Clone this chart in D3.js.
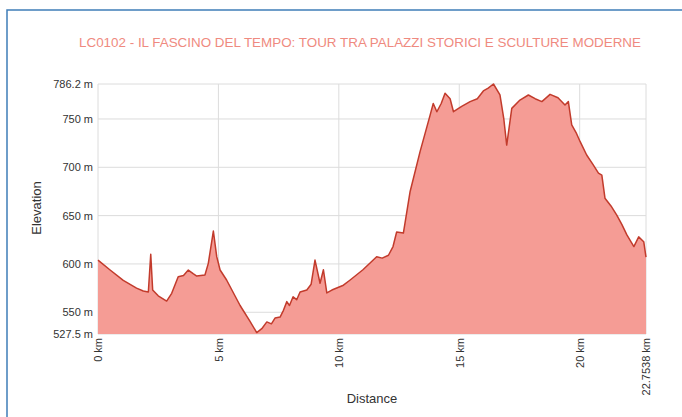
<!DOCTYPE html>
<html>
<head>
<meta charset="utf-8">
<script src="https://cdn.jsdelivr.net/npm/d3@7"></script>
<style>
	body { margin: 0; background: #fff; }
	svg { display: block; font-family: 'Liberation Sans', Arial, sans-serif; }
</style>
</head>
<body>
<svg id="chart" width="682" height="417"></svg>
<script>
// Profile: distance (km) and elevation (m)
var distKm = [0, 0.49, 1.05, 1.6, 1.88, 2.09, 2.19, 2.27, 2.5, 2.85, 3.06, 3.33, 3.55, 3.75, 3.95, 4.1, 4.44,
	4.58, 4.79, 4.93, 5.07, 5.34, 5.9, 6.3, 6.59, 6.8, 7.01, 7.2, 7.35, 7.56, 7.7, 7.84, 7.95, 8.1, 8.25, 8.39,
	8.67, 8.85, 9.01, 9.22, 9.36, 9.5, 9.71, 10.19, 10.47, 11.0, 11.57, 11.8, 12.06, 12.25, 12.4, 12.68, 12.96,
	13.37, 13.79, 13.92, 14.07, 14.25, 14.41, 14.62, 14.76, 15.1, 15.45, 15.75, 16.0, 16.2, 16.42, 16.69, 16.85, 16.97,
	17.18, 17.52, 17.87, 18.15, 18.43, 18.77, 19.1, 19.39, 19.53, 19.67, 19.85, 20.02, 20.29, 20.55, 20.78, 20.92,
	21.05, 21.3, 21.54, 21.75, 21.96, 22.25, 22.45, 22.66, 22.7538];
var elevM = [604, 594, 583, 575, 572, 571, 610, 573, 567, 561.6, 569.6, 586.8, 588, 593.7, 590, 587.5, 588.5,
	600.6, 634, 607.5, 593.7, 583.4, 557, 541, 529, 533, 540, 538, 544, 545, 552, 561, 557, 566, 563, 571,
	573, 579, 604, 580, 594, 570, 573, 578, 583.4, 594, 607.5, 606, 609, 618, 633, 632, 675,
	716, 754, 766, 757.5, 766, 776.6, 771, 757.5, 763, 768, 771, 779, 782, 786.2, 775, 750, 723,
	761, 769.6, 774.8, 771, 768, 775.5, 772, 764.5, 768, 744, 736, 726.5, 712.7, 703, 694, 692,
	668, 660, 650.6, 641, 630, 618, 628, 623, 607];

var yTicks = [527.5, 550, 600, 650, 700, 750, 786.2];
var xTicks = [0, 5, 10, 15, 20, 22.7538];
var titleText = 'LC0102 - IL FASCINO DEL TEMPO: TOUR TRA PALAZZI STORICI E SCULTURE MODERNE';

var svg = d3.select('#chart');
var plot = { left: 98, right: 646, top: 84, bottom: 334 };

var x = d3.scaleLinear().domain([0, 22.7538]).range([plot.left, plot.right]);
var y = d3.scaleLinear().domain([527.5, 786.2]).range([plot.bottom, plot.top]);

var profile = distKm.map(function(d, i){ return { km: d, m: elevM[i] }; });

// outer frame
svg.append('rect')
	.attr('x', 7)
	.attr('y', 10)
	.attr('width', 700)
	.attr('height', 420)
	.attr('fill', 'none')
	.attr('stroke', '#3f7db8')
	.attr('stroke-width', 1.5);

// title
svg.append('text')
	.attr('x', 360)
	.attr('y', 47)
	.attr('text-anchor', 'middle')
	.attr('font-size', 13)
	.attr('fill', '#ef8a80')
	.attr('textLength', 562)
	.attr('lengthAdjust', 'spacingAndGlyphs')
	.text(titleText);

// grid
svg.append('g')
	.selectAll('line')
	.data(yTicks)
	.join('line')
	.attr('x1', plot.left)
	.attr('x2', plot.right)
	.attr('y1', function(d){ return y(d); })
	.attr('y2', function(d){ return y(d); })
	.attr('stroke', '#dcdcdc')
	.attr('stroke-width', 1);

svg.append('g')
	.selectAll('line')
	.data(xTicks)
	.join('line')
	.attr('x1', function(d){ return x(d); })
	.attr('x2', function(d){ return x(d); })
	.attr('y1', plot.top)
	.attr('y2', plot.bottom)
	.attr('stroke', '#dcdcdc')
	.attr('stroke-width', 1);

// area + line
var area = d3.area()
	.x(function(d){ return x(d.km); })
	.y0(plot.bottom)
	.y1(function(d){ return y(d.m); });

var line = d3.line()
	.x(function(d){ return x(d.km); })
	.y(function(d){ return y(d.m); });

svg.append('path')
	.datum(profile)
	.attr('d', area)
	.attr('fill', '#f59c95');

svg.append('path')
	.datum(profile)
	.attr('d', line)
	.attr('fill', 'none')
	.attr('stroke', '#c23b2c')
	.attr('stroke-width', 1.5)
	.attr('stroke-linejoin', 'round');

// y axis labels
var yAxis = d3.axisLeft(y)
	.tickValues(yTicks)
	.tickSize(0)
	.tickPadding(5)
	.tickFormat(function(d){ return d + ' m'; });

var gy = svg.append('g')
	.attr('transform', 'translate(' + plot.left + ',0)')
	.call(yAxis);
gy.select('.domain').remove();
gy.selectAll('text')
	.attr('font-size', 11)
	.attr('font-family', 'Liberation Sans, Arial, sans-serif')
	.attr('fill', '#333');

// x axis labels, rotated
var xAxis = d3.axisBottom(x)
	.tickValues(xTicks)
	.tickSize(0)
	.tickFormat(function(d){ return d + ' km'; });

var gx = svg.append('g')
	.attr('transform', 'translate(0,' + plot.bottom + ')')
	.call(xAxis);
gx.select('.domain').remove();
gx.selectAll('text')
	.attr('font-size', 11)
	.attr('font-family', 'Liberation Sans, Arial, sans-serif')
	.attr('fill', '#333')
	.attr('text-anchor', 'end')
	.attr('transform', 'rotate(-90)')
	.attr('x', -4)
	.attr('y', 0)
	.attr('dy', '0.35em');

// axis titles
svg.append('text')
	.attr('transform', 'translate(41,208) rotate(-90)')
	.attr('text-anchor', 'middle')
	.attr('font-size', 13)
	.attr('fill', '#333')
	.text('Elevation');

svg.append('text')
	.attr('x', 372)
	.attr('y', 403)
	.attr('text-anchor', 'middle')
	.attr('font-size', 13)
	.attr('fill', '#333')
	.text('Distance');
</script>
</body>
</html>
